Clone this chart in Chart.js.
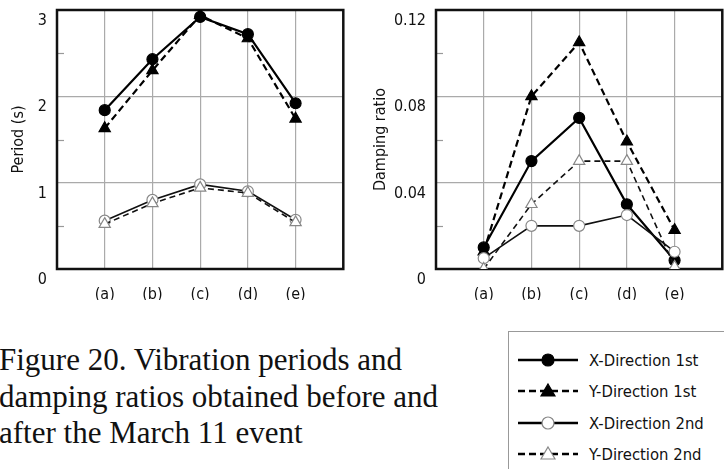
<!DOCTYPE html>
<html>
<head>
<meta charset="utf-8">
<script src="https://cdn.jsdelivr.net/npm/chart.js@4.4.1/dist/chart.umd.min.js"></script>
<style>
  html, body { margin: 0; padding: 0; background: #fff; }
  body { width: 724px; height: 469px; position: relative; overflow: hidden; }
  .box { position: absolute; }
  #leftWrap { left: 0; top: 0; width: 362px; height: 300px; }
  #rightWrap { left: 362px; top: 0; width: 380px; height: 300px; }
  #caption {
    position: absolute; left: -1px; top: 342px;
    font-family: "Liberation Serif", "Times New Roman", serif;
    font-size: 31px; line-height: 36.5px; color: #111; white-space: nowrap;
  }
  #legend {
    position: absolute; left: 508px; top: 331px; width: 240px; height: 150px;
    border: 1px solid #999; box-sizing: border-box;
    font-family: "DejaVu Sans Condensed", "Liberation Sans Narrow", sans-serif;
    font-size: 16.5px; color: #111;
  }
  .row { position: absolute; left: 9px; height: 20px; display: flex; align-items: center; white-space: nowrap; }
  .row svg { margin-right: 11px; }
</style>
</head>
<body>
<div class="box" id="leftWrap"><canvas id="periodChart"></canvas></div>
<div class="box" id="rightWrap"><canvas id="dampChart"></canvas></div>
<div id="caption">Figure 20. Vibration periods and<br>damping ratios obtained before and<br>after the March 11 event</div>
<div id="legend"></div>
<script>
// donnees
const categories = ['(a)', '(b)', '(c)', '(d)', '(e)'];
const seriesNames = ['X-Direction 1st', 'Y-Direction 1st', 'X-Direction 2nd', 'Y-Direction 2nd'];

const periodX1 = [1.84, 2.43, 2.92, 2.72, 1.92];
const periodY1 = [1.63, 2.30, 2.94, 2.67, 1.74];
const periodX2 = [0.56, 0.80, 0.98, 0.90, 0.57];
const periodY2 = [0.52, 0.76, 0.94, 0.88, 0.54];
const periodTicks = [0, 1, 2, 3];

const dampX1 = [0.010, 0.050, 0.070, 0.030, 0.004];
const dampY1 = [0.008, 0.080, 0.105, 0.059, 0.018];
const dampX2 = [0.005, 0.020, 0.020, 0.025, 0.008];
const dampY2 = [0.000, 0.030, 0.050, 0.050, 0.001];
const dampTicks = [0, 0.04, 0.08, 0.12];

const FONT = '"DejaVu Sans Condensed", "Liberation Sans Narrow", sans-serif';

const styles = [
  { dash: [], style: 'circle', fill: '#000', stroke: '#000', line: '#000', width: 2.2, radius: 5.5 },
  { dash: [7, 4], style: 'triangle', fill: '#000', stroke: '#000', line: '#000', width: 2.2, radius: 6.5 },
  { dash: [], style: 'circle', fill: '#fff', stroke: '#888', line: '#111', width: 1.6, radius: 5.5 },
  { dash: [6, 4], style: 'triangle', fill: '#fff', stroke: '#888', line: '#111', width: 1.6, radius: 6.5 }
];

function makeDatasets(arrs) {
  return arrs.map((vals, k) => ({
    label: seriesNames[k],
    data: vals.map((v, i) => ({ x: i, y: v })),
    borderColor: styles[k].line,
    borderWidth: styles[k].width,
    borderDash: styles[k].dash,
    pointStyle: styles[k].style,
    pointRadius: styles[k].radius,
    pointBackgroundColor: styles[k].fill,
    pointBorderColor: styles[k].stroke,
    pointBorderWidth: 1.2,
    tension: 0
  })).reverse(); // 1st modes drawn last, on top
}

// cadre noir + petites graduations intermediaires
const framePlugin = {
  id: 'frame',
  beforeDatasetsDraw(chart, args, opts) {
    const { ctx, chartArea: a, scales } = chart;
    ctx.save();
    ctx.strokeStyle = '#999';
    ctx.lineWidth = 1.2;
    opts.minor.forEach(v => {
      const y = Math.round(scales.y.getPixelForValue(v)) + 0.5;
      ctx.beginPath();
      ctx.moveTo(a.left, y);
      ctx.lineTo(a.left + 7, y);
      ctx.stroke();
    });
    ctx.strokeStyle = '#111';
    ctx.lineWidth = 2.5;
    ctx.strokeRect(a.left, a.top, a.right - a.left, a.bottom - a.top);
    ctx.restore();
  }
};

function makeChart(id, arrs, ticksVals, minor, yTitle, axisWidth, titlePad) {
  const top = ticksVals[ticksVals.length - 1];
  return new Chart(document.getElementById(id), {
    type: 'line',
    data: { datasets: makeDatasets(arrs) },
    plugins: [framePlugin],
    options: {
      responsive: false,
      animation: false,
      layout: { padding: { top: 10, right: 0, bottom: 0, left: 0 } },
      plugins: {
        legend: { display: false },
        tooltip: { enabled: false },
        frame: { minor: minor }
      },
      scales: {
        x: {
          type: 'linear', min: -1, max: 5,
          afterBuildTicks: s => { s.ticks = [-1, 0, 1, 2, 3, 4, 5].map(v => ({ value: v })); },
          afterFit: s => { s.height = 31; s.paddingLeft = 0; s.paddingRight = 0; },
          grid: { color: c => (c.tick && c.tick.value >= 0 && c.tick.value <= 4) ? '#aaa' : 'rgba(0,0,0,0)', lineWidth: 1.2, drawTicks: false },
          border: { display: false },
          ticks: {
            padding: 16, color: '#111', font: { family: FONT, size: 16 },
            maxRotation: 0, autoSkip: false,
            callback: v => categories[v] || ''
          }
        },
        y: {
          min: 0, max: top,
          afterBuildTicks: s => { s.ticks = ticksVals.map(v => ({ value: v })); },
          afterFit: s => { s.width = axisWidth; s.paddingTop = 0; s.paddingBottom = 0; },
          grid: { color: '#aaa', lineWidth: 1.2, drawTicks: false },
          border: { display: false },
          title: { display: true, text: yTitle, color: '#111', font: { family: FONT, size: 16 }, padding: { top: titlePad, bottom: 0 } },
          ticks: {
            padding: 10, color: '#111', font: { family: FONT, size: 16, lineHeight: 1.35 },
            callback: v => ['', String(+v.toFixed(2))]
          }
        }
      }
    }
  });
}

function sizeCanvas(id, w, h) {
  const c = document.getElementById(id);
  c.width = w; c.height = h;
  c.style.width = w + 'px'; c.style.height = h + 'px';
}

// zone de trace : gauche 57..351, droite 436..730 (coupee par la page)
sizeCanvas('periodChart', 351, 300);
sizeCanvas('dampChart', 368, 300);

makeChart('periodChart', [periodX1, periodY1, periodX2, periodY2], periodTicks,
  [0.5, 1.5, 2.5], 'Period (s)', 57, 9);
makeChart('dampChart', [dampX1, dampY1, dampX2, dampY2], dampTicks,
  [0.02, 0.06, 0.10], 'Damping ratio', 74, 9);

// legende
const legend = document.getElementById('legend');
const rowTops = [18, 49, 81, 112];
seriesNames.forEach((name, k) => {
  const s = styles[k];
  const row = document.createElement('div');
  row.className = 'row';
  row.style.top = rowTops[k] + 'px';
  const dash = s.dash.length ? 'stroke-dasharray="7,4"' : '';
  const mark = s.style === 'circle'
    ? `<circle cx="30" cy="10" r="6" fill="${s.fill}" stroke="${s.stroke}" stroke-width="1.2"/>`
    : `<polygon points="30,3 37,15 23,15" fill="${s.fill}" stroke="${s.stroke}" stroke-width="1.2"/>`;
  row.innerHTML = `<svg width="60" height="20"><line x1="0" y1="10" x2="60" y2="10" stroke="#000" stroke-width="2.6" ${dash}/>${mark}</svg><span>${name}</span>`;
  legend.appendChild(row);
});
</script>
</body>
</html>
